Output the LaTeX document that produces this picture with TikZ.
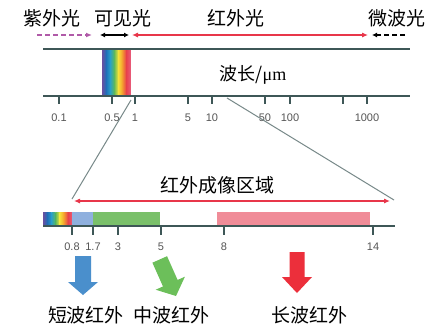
\documentclass[tikz,border=0pt]{standalone}
\usepackage{fontspec}
\newfontfamily\cjk{Noto Sans CJK SC}
\newfontfamily\numf{Liberation Sans}
\newfontfamily\serf{Liberation Serif}
\usetikzlibrary{arrows.meta}
\definecolor{axis}{HTML}{3E5757}
\definecolor{redarr}{HTML}{E8364A}
\definecolor{purp}{HTML}{B05AA8}
\definecolor{numgray}{HTML}{555555}
\definecolor{bluearr}{HTML}{4A8FCC}
\definecolor{greenarr}{HTML}{6CBF5A}
\definecolor{redblock}{HTML}{EC2F3B}
\definecolor{pinkbar}{HTML}{F08C98}
\definecolor{bluebar}{HTML}{8FB0DE}
\definecolor{greenbar}{HTML}{7AC06A}
\definecolor{sp1}{HTML}{6A4FA0}
\definecolor{sp2}{HTML}{1F6FB8}
\definecolor{sp3}{HTML}{2AA0C8}
\definecolor{sp4}{HTML}{5CB85C}
\definecolor{sp5}{HTML}{F5E23A}
\definecolor{sp6}{HTML}{F4A030}
\definecolor{sp7}{HTML}{E8404A}
\definecolor{sp8}{HTML}{E85A78}
\tikzset{
  lbl/.style={font=\cjk\fontsize{19}{19}\selectfont, inner sep=0pt},
  num/.style={font=\numf\fontsize{11}{11}\selectfont, text=numgray, inner sep=0pt},
  axisline/.style={draw=axis, line width=1.6pt},
  tick/.style={draw=axis, line width=1.4pt},
  zoomline/.style={draw=axis!70, line width=1pt},
}
\newcommand{\rainbow}[4]{% x0 x1 y0 y1
  \pgfmathsetmacro{\w}{(#2-#1)/7}
  \foreach \i/\ca/\cb in {0/sp1/sp2,1/sp2/sp3,2/sp3/sp4,3/sp4/sp5,4/sp5/sp6,5/sp6/sp7,6/sp7/sp8}{
    \shade[left color=\ca, right color=\cb] ({#1+\i*\w},#3) rectangle ({#1+(\i+1)*\w+0.3},#4);
  }
}
\begin{document}
\begin{tikzpicture}[x=1pt,y=-1pt]
\useasboundingbox (0,0) rectangle (429,327);
\fill[white] (0,0) rectangle (429,327);

% top labels
\node[lbl] (uv) at (52,18) {紫外光};
\node[lbl] (vis) at (123,18) {可见光};
\node[lbl] (ir) at (236,18) {红外光};
\node[lbl] (mw) at (397,18) {微波光};

% arrows row
\coordinate (uvA) at (37,35); \coordinate (uvB) at (92,35);
\coordinate (visA) at (100,35); \coordinate (visB) at (129,35);
\coordinate (irA) at (132,35); \coordinate (irB) at (368,35);
\coordinate (mwA) at (405,35); \coordinate (mwB) at (372,35);
\draw[purp, line width=1.2pt, dashed, dash pattern=on 5pt off 3pt, -{Latex[length=6pt,width=5pt]}] (uvA) -- (uvB);
\draw[black, line width=1.1pt, {Latex[length=5pt,width=5pt]}-{Latex[length=5pt,width=5pt]}] (visA) -- (visB);
\draw[redarr, line width=1.1pt, {Latex[length=6pt,width=5pt]}-{Latex[length=6pt,width=5pt]}] (irA) -- (irB);
\draw[black, line width=1.1pt, dashed, dash pattern=on 5pt off 3pt, -{Latex[length=5pt,width=5pt]}] (mwA) -- (mwB);

% spectrum band
\rainbow{102}{130}{49}{96}

% top frame lines
\coordinate (t0) at (43,49); \coordinate (t1) at (410,49);
\coordinate (a0) at (43,96); \coordinate (a1) at (410,96);
\draw[axisline] (t0) -- (t1);
\draw[axisline] (a0) -- (a1);

\node[font=\cjk\fontsize{18}{18}\selectfont, inner sep=0pt] (wl) at (253,75) {波长/{\serf μm}};

% ticks top axis
\foreach \x/\t in {59/0.1,112/0.5,135/1,188/5,212/10,265/50,290/100,367/1000}{
  \draw[tick] (\x,96) -- (\x,104);
  \node[num] at (\x,118) {\t};
}
\draw[tick] (343,96) -- (343,104);

% zoom lines
\coordinate (z1a) at (131,100); \coordinate (z1b) at (72,199);
\coordinate (z2a) at (227,98); \coordinate (z2b) at (394,200);
\draw[zoomline] (z1a) -- (z1b);
\draw[zoomline] (z2a) -- (z2b);

% imaging region label
\node[lbl] (img) at (217,185) {红外成像区域};
\coordinate (imA) at (74,201); \coordinate (imB) at (390,201);
\draw[redarr, line width=1.1pt, {Latex[length=6pt,width=5pt]}-{Latex[length=6pt,width=5pt]}] (imA) -- (imB);

% bottom bars
\rainbow{43}{72}{212}{225}
\fill[bluebar] (72,212) rectangle (93,225);
\fill[greenbar] (93,212) rectangle (160,225);
\fill[pinkbar] (217,212) rectangle (370,225);

\coordinate (b0) at (43,226); \coordinate (b1) at (395,226);
\draw[axisline] (b0) -- (b1);
\foreach \x in {72,93,118,161,224,373}{
  \draw[tick] (\x,226) -- (\x,235);
}
\node[num] at (72,247) {0.8};
\node[num] at (93,247) {1.7};
\node[num] at (118,247) {3};
\node[num] at (161,247) {5};
\node[num] at (224,247) {8};
\node[num] at (373,247) {14};

% block arrows
\fill[bluearr] (75,256) -- (91,256) -- (91,282) -- (98,282) -- (83,295) -- (68,282) -- (75,282) -- cycle;
\begin{scope}[shift={(176,296)}, rotate=24]
\fill[greenarr] (-8,-40) -- (8,-40) -- (8,-14) -- (16,-14) -- (0,0) -- (-16,-14) -- (-8,-14) -- cycle;
\end{scope}
\fill[redblock] (289.5,252) -- (304.5,252) -- (304.5,277) -- (312,277) -- (297,293) -- (282,277) -- (289.5,277) -- cycle;

% bottom labels
\node[lbl] (sw) at (86,315) {短波红外};
\node[lbl] (mwi) at (171,315) {中波红外};
\node[lbl] (lw) at (309,315) {长波红外};
\end{tikzpicture}
\end{document}
